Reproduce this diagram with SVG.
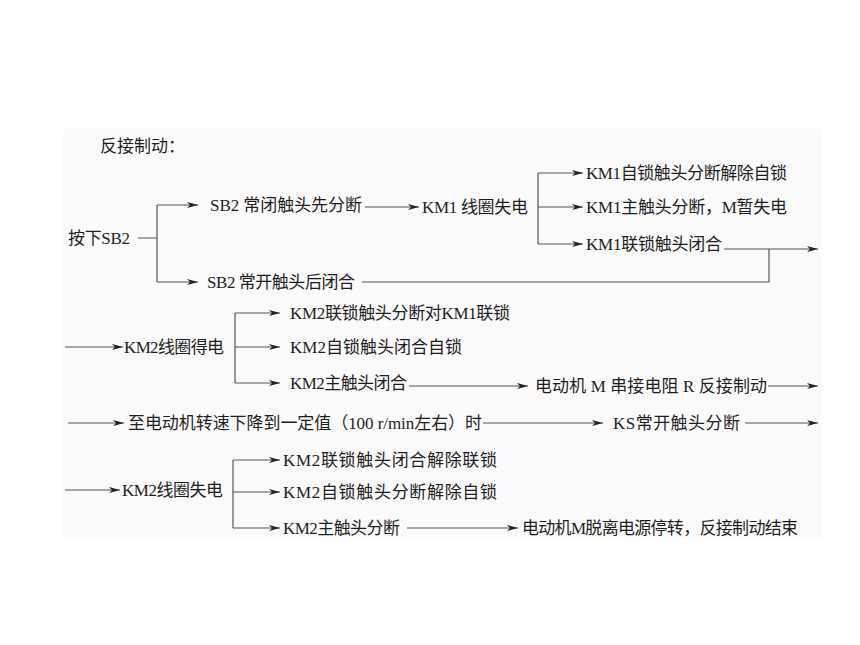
<svg xmlns="http://www.w3.org/2000/svg" width="860" height="645" viewBox="0 0 860 645">
<style>
text{font-family:"Liberation Serif","Noto Sans CJK SC",serif;font-size:17px;fill:#1e1e1e}
.c{fill:none;stroke:#555;stroke-width:1.2}
</style>
<defs>
<marker id="a" markerWidth="12" markerHeight="8" refX="11" refY="4" orient="auto" markerUnits="userSpaceOnUse">
<path d="M0,1 L11,4 L0,7 L3,4 Z" fill="#222"/>
</marker>
</defs>
<rect width="860" height="645" fill="#fff"/>
<rect x="63" y="129" width="759" height="409" fill="#fbfbfb"/>
<g id="title"><text x="100" y="152">反接制动：</text></g>
<g id="n_press"><text x="68" y="244" textLength="62">按下SB2</text></g>
<g id="n_sb2nc"><text x="210" y="211" textLength="152">SB2 常闭触头先分断</text></g>
<g id="n_sb2no"><text x="207" y="288" textLength="148">SB2 常开触头后闭合</text></g>
<g id="n_km1off"><text x="422" y="213" textLength="106">KM1 线圈失电</text></g>
<g id="n_km1a"><text x="586" y="179" textLength="201">KM1自锁触头分断解除自锁</text></g>
<g id="n_km1b"><text x="586" y="213" textLength="201">KM1主触头分断，M暂失电</text></g>
<g id="n_km1c"><text x="586" y="250" textLength="136">KM1联锁触头闭合</text></g>
<g id="n_km2on"><text x="124" y="353" textLength="100">KM2线圈得电</text></g>
<g id="n_km2a"><text x="290" y="319" textLength="220">KM2联锁触头分断对KM1联锁</text></g>
<g id="n_km2b"><text x="290" y="353" textLength="172">KM2自锁触头闭合自锁</text></g>
<g id="n_km2c"><text x="290" y="389" textLength="117">KM2主触头闭合</text></g>
<g id="n_brake"><text x="535" y="392" textLength="232">电动机 M 串接电阻 R 反接制动</text></g>
<g id="n_speed"><text x="128" y="429" textLength="354">至电动机转速下降到一定值（100 r/min左右）时</text></g>
<g id="n_ks"><text x="613" y="429" textLength="127">KS常开触头分断</text></g>
<g id="n_km2off"><text x="122" y="496" textLength="101">KM2线圈失电</text></g>
<g id="n_km2d"><text x="283" y="466" textLength="214">KM2联锁触头闭合解除联锁</text></g>
<g id="n_km2e"><text x="283" y="498" textLength="214">KM2自锁触头分断解除自锁</text></g>
<g id="n_km2f"><text x="283" y="534" textLength="117">KM2主触头分断</text></g>
<g id="n_end"><text x="522" y="534" textLength="276">电动机M脱离电源停转，反接制动结束</text></g>
<g id="connectors">
<path class="c" d="M138,238 H157 M157,205 V282"/>
<path class="c" d="M157,205 H198" marker-end="url(#a)"/>
<path class="c" d="M157,282 H198" marker-end="url(#a)"/>
<path class="c" d="M365,207 H419" marker-end="url(#a)"/>
<path class="c" d="M538,173 V244"/>
<path class="c" d="M538,173 H583" marker-end="url(#a)"/>
<path class="c" d="M538,207 H583" marker-end="url(#a)"/>
<path class="c" d="M538,244 H583" marker-end="url(#a)"/>
<path class="c" d="M724,249 H818" marker-end="url(#a)"/>
<path class="c" d="M362,282 H769 V249"/>
<path class="c" d="M65,347 H123" marker-end="url(#a)"/>
<path class="c" d="M235,313 V383"/>
<path class="c" d="M235,313 H280" marker-end="url(#a)"/>
<path class="c" d="M235,347 H280" marker-end="url(#a)"/>
<path class="c" d="M235,383 H280" marker-end="url(#a)"/>
<path class="c" d="M409,386 H528" marker-end="url(#a)"/>
<path class="c" d="M768,386 H818" marker-end="url(#a)"/>
<path class="c" d="M68,423 H124" marker-end="url(#a)"/>
<path class="c" d="M483,423 H603" marker-end="url(#a)"/>
<path class="c" d="M745,423 H818" marker-end="url(#a)"/>
<path class="c" d="M65,490 H120" marker-end="url(#a)"/>
<path class="c" d="M233,460 V528"/>
<path class="c" d="M233,460 H280" marker-end="url(#a)"/>
<path class="c" d="M233,492 H280" marker-end="url(#a)"/>
<path class="c" d="M233,528 H280" marker-end="url(#a)"/>
<path class="c" d="M407,528 H518" marker-end="url(#a)"/>
</g>
</svg>
